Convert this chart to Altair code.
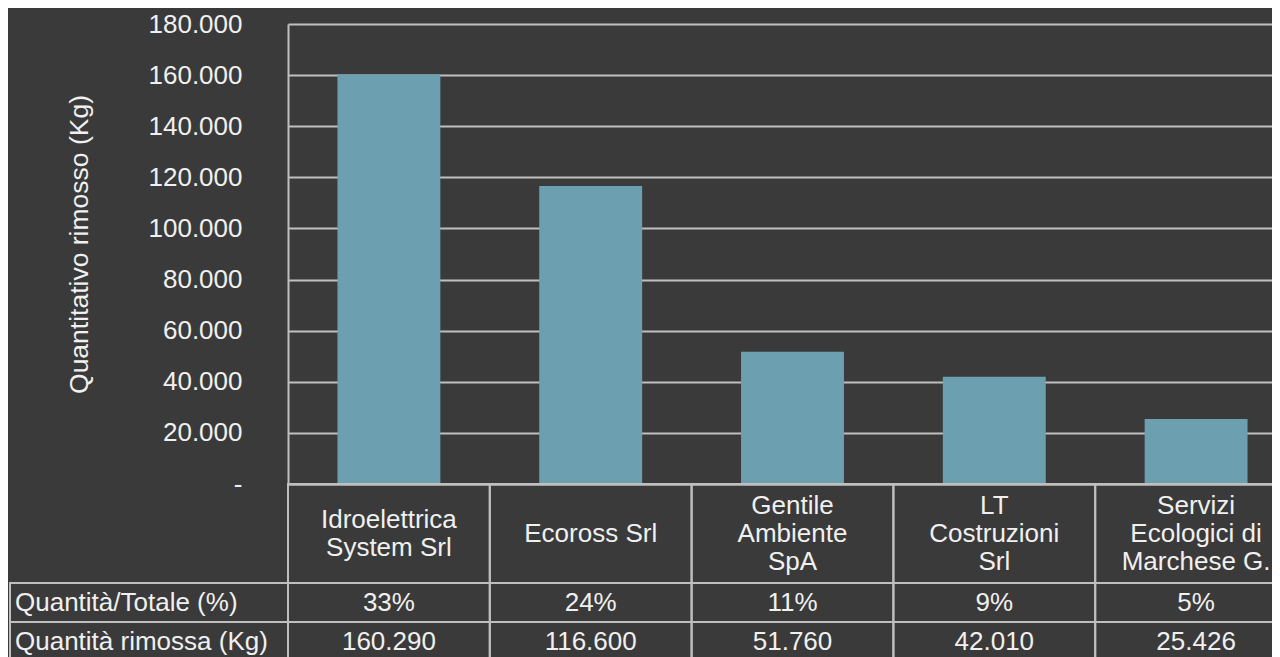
import altair as alt
import pandas as pd

# ---- data ----
categories = ["Idroelettrica System Srl", "Ecoross Srl", "Gentile Ambiente SpA",
              "LT Costruzioni Srl", "Servizi Ecologici di Marchese G."]
header_labels = ["Idroelettrica\nSystem Srl", "Ecoross Srl", "Gentile\nAmbiente\nSpA",
                 "LT\nCostruzioni\nSrl", "Servizi\nEcologici di\nMarchese G."]
kg_values = [160290, 116600, 51760, 42010, 25426]
pct_values = [33, 24, 11, 9, 5]
row_labels = ["Quantità/Totale (%)", "Quantità rimossa (Kg)"]
y_ticks = [0, 20000, 40000, 60000, 80000, 100000, 120000, 140000, 160000, 180000]

BG = "#3a3a3a"
GRID = "#bfbfbf"
TXT = "#f0f0f0"
BAR = "#6c9fb0"
FONT = "Liberation Sans"
FS = 26
LH = 28

df = pd.DataFrame({"cat": categories, "label": header_labels,
                   "kg": kg_values, "pct": pct_values})

rows = []
for c, p, k in zip(categories, pct_values, kg_values):
    rows.append({"cat": c, "row": row_labels[0], "num": p, "kind": "pct"})
    rows.append({"cat": c, "row": row_labels[1], "num": k, "kind": "kg"})
tdf = pd.DataFrame(rows)
rdf = pd.DataFrame({"row": row_labels})

xenc = alt.X("cat:N", sort=categories,
             scale=alt.Scale(paddingInner=0, paddingOuter=0),
             axis=alt.Axis(labels=False, ticks=False, title=None, grid=False,
                           domain=True, domainColor=GRID, domainWidth=2))
xplain = alt.X("cat:N", sort=categories)

bars = alt.Chart(df).mark_bar(width={"band": 0.51}, color=BAR).encode(
    x=xenc,
    y=alt.Y("kg:Q",
            scale=alt.Scale(domain=[0, 180000], nice=False),
            axis=alt.Axis(values=y_ticks, ticks=False, grid=True,
                          gridColor=GRID, gridWidth=2,
                          domain=True, domainColor=GRID, domainWidth=2,
                          labelFont=FONT, labelFontSize=FS, labelColor=TXT,
                          labelPadding=46,
                          labelExpr="datum.value == 0 ? '-\u00a0\u00a0' : replace(format(datum.value, ','), ',', '.')",
                          title="Quantitativo rimosso (Kg)",
                          titleFont=FONT, titleFontSize=26.5, titleFontWeight="normal",
                          titleColor=TXT, titleAngle=270, titleX=-209, titleY=220,
                          titleAlign="center", titleBaseline="middle")),
)

# header row cells (category labels)
header_cells = alt.Chart(df).mark_rect(fill="transparent", stroke=GRID, strokeWidth=2).encode(
    x=xplain, y=alt.value(460), y2=alt.value(559))
header_text = alt.Chart(df).transform_calculate(
    off=f"-(length(split(datum.label, '\\n')) - 1) * {LH / 2}"
).mark_text(font=FONT, fontSize=FS, color=TXT, lineBreak="\n",
            lineHeight=LH, baseline="middle", align="center").encode(
    x=xplain, y=alt.value(509.5),
    yOffset=alt.YOffset("off:Q", scale=None),
    text="label:N")

yrow = alt.Y("row:N", sort=row_labels,
             scale=alt.Scale(range=[559, 637], paddingInner=0, paddingOuter=0),
             axis=None)

cells = alt.Chart(tdf).mark_rect(fill="transparent", stroke=GRID, strokeWidth=2).encode(
    x=xplain, y=yrow)
cell_text = alt.Chart(tdf).transform_calculate(
    txt="datum.kind == 'pct' ? datum.num + '%' : replace(format(datum.num, ','), ',', '.')"
).mark_text(font=FONT, fontSize=FS, color=TXT, baseline="middle", align="center").encode(
    x=xplain, y=yrow, text="txt:N")
row_cells = alt.Chart(rdf).mark_rect(fill="transparent", stroke=GRID, strokeWidth=2).encode(
    x=alt.value(-278), x2=alt.value(0), y=yrow)
row_text = alt.Chart(rdf).mark_text(font=FONT, fontSize=FS, color=TXT, baseline="middle",
                                    align="left").encode(
    x=alt.value(-273), y=yrow, text="row:N")

table = alt.layer(cells, cell_text, row_cells, row_text)

chart = alt.layer(
    alt.layer(bars, header_cells, header_text),
    table,
).resolve_scale(y="independent").properties(
    width=1009, height=460,
    autosize=alt.AutoSizeParams(type="none"),
    padding={"left": 280, "top": 16, "right": -25, "bottom": 173},
    background=BG,
).configure_view(strokeWidth=0)

chart.save("out.html", embed_options={"renderer": "svg", "actions": False})
